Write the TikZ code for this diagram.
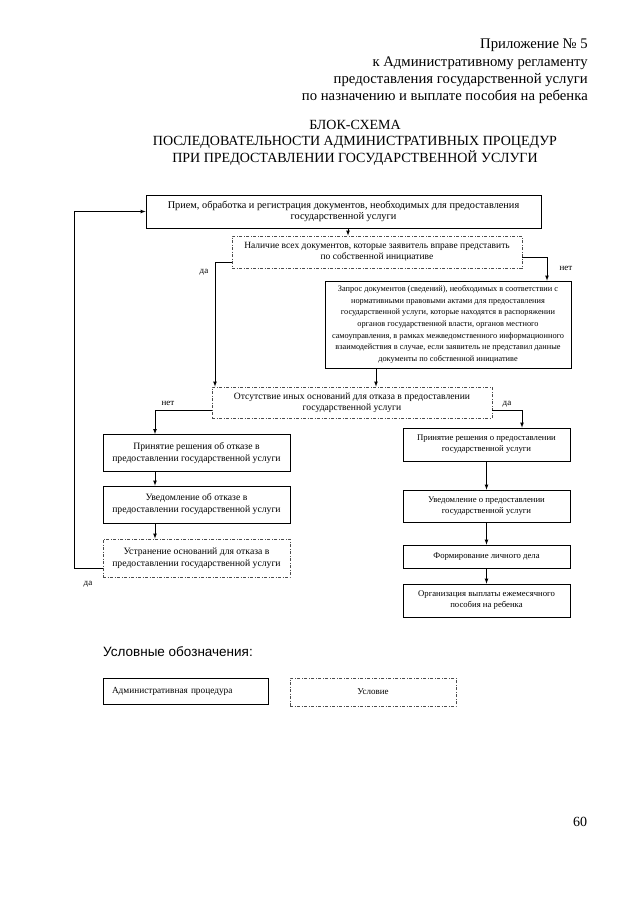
\documentclass[tikz,border=0pt]{standalone}
\usepackage{fontspec}
\setmainfont{Liberation Serif}
\newfontfamily\legendfont{Liberation Sans}
\usetikzlibrary{arrows}

\tikzset{
  proc/.style={draw, line width=0.8pt, align=center, inner sep=1pt,
    font=\fontsize{9}{11}\selectfont},
  cond/.style={draw=black!70, line width=0.8pt,
    dash pattern=on 3pt off 1.5pt on 1pt off 1.5pt,
    align=center, inner sep=1pt, font=\fontsize{9.5}{11}\selectfont},
  link/.style={-latex, line width=0.7pt},
  lbl/.style={font=\fontsize{9}{10}\selectfont, inner sep=0pt}
}

\begin{document}
\begin{tikzpicture}[x=1pt,y=-1pt]
  \useasboundingbox (0,0) rectangle (640,905);

  % header and title
  \node[anchor=north east, align=right, inner sep=0pt,
    font=\fontsize{14.7}{17.3}\selectfont] (annex) at (588,39)
    {Приложение № 5\\к Административному регламенту\\предоставления государственной услуги\\по назначению и выплате пособия на ребенка};
  \node[align=center, inner sep=0pt, font=\fontsize{14}{16.5}\selectfont] (title) at (355,142.5)
    {БЛОК-СХЕМА\\ПОСЛЕДОВАТЕЛЬНОСТИ АДМИНИСТРАТИВНЫХ ПРОЦЕДУР\\ПРИ ПРЕДОСТАВЛЕНИИ ГОСУДАРСТВЕННОЙ УСЛУГИ};

  % boxes
  \node[proc, minimum width=395pt, minimum height=33pt, font=\fontsize{10.3}{11.5}\selectfont] (receipt) at (343.5,211.5)
    {Прием, обработка и регистрация документов, необходимых для предоставления\\государственной услуги};
  \node[cond, minimum width=290pt, minimum height=32pt] (docs) at (377,252)
    {Наличие всех документов, которые заявитель вправе представить\\по собственной инициативе};
  \node[proc, minimum width=246pt, minimum height=87pt, font=\fontsize{8.3}{11.6}\selectfont] (request) at (448,324.5)
    {Запрос документов (сведений), необходимых в соответствии с\\нормативными правовыми актами для предоставления\\государственной услуги, которые находятся в распоряжении\\органов государственной власти, органов местного\\самоуправления, в рамках межведомственного информационного\\взаимодействия в случае, если заявитель не представил данные\\документы по собственной инициативе};
  \node[cond, minimum width=280pt, minimum height=31pt, font=\fontsize{9.6}{11}\selectfont] (grounds) at (352,402.5)
    {Отсутствие иных оснований для отказа в предоставлении\\государственной услуги};

  \node[proc, minimum width=187pt, minimum height=37pt, font=\fontsize{9.7}{12}\selectfont] (refuse) at (196.5,453)
    {Принятие решения об отказе в\\предоставлении государственной услуги};
  \node[proc, minimum width=187pt, minimum height=37pt, font=\fontsize{9.7}{12}\selectfont] (notifyno) at (196.5,504.5)
    {Уведомление об отказе в\\предоставлении государственной услуги};
  \node[cond, minimum width=187pt, minimum height=38pt, font=\fontsize{9.7}{12}\selectfont] (remedy) at (196.5,558)
    {Устранение оснований для отказа в\\предоставлении государственной услуги};

  \node[proc, minimum width=167pt, minimum height=33pt, font=\fontsize{8.7}{11}\selectfont] (grant) at (486.5,444.5)
    {Принятие решения о предоставлении\\государственной услуги};
  \node[proc, minimum width=167pt, minimum height=32pt, font=\fontsize{8.7}{11}\selectfont] (notifyyes) at (486.5,506)
    {Уведомление о предоставлении\\государственной услуги};
  \node[proc, minimum width=167pt, minimum height=23pt, font=\fontsize{8.7}{11}\selectfont] (casefile) at (486.5,556.5)
    {Формирование личного дела};
  \node[proc, minimum width=167pt, minimum height=33pt, font=\fontsize{8.7}{11}\selectfont] (payment) at (486.5,600.5)
    {Организация выплаты ежемесячного\\пособия на ребенка};

  % connectors
  \draw[link] ([xshift=4.5pt]receipt.south) -- ([xshift=4.5pt]receipt.south |- docs.north);
  \draw[link] ([yshift=-10pt]docs.west) -| ([xshift=-137pt]grounds.north);
  \draw[link] ([yshift=-5pt]docs.east) -| ([xshift=99pt]request.north);
  \draw[link] ([xshift=-72pt]request.south) -- ([xshift=-72pt]request.south |- grounds.north);
  \draw[link] ([yshift=-7.5pt]grounds.west) -| ([xshift=-41.5pt]refuse.north);
  \draw[link] ([yshift=-7.5pt]grounds.east) -| ([xshift=35.5pt]grant.north);
  \draw[link] ([xshift=-41.5pt]refuse.south) -- ([xshift=-41.5pt]notifyno.north);
  \draw[link] ([xshift=-41.5pt]notifyno.south) -- ([xshift=-41.5pt]remedy.north);
  \draw[link] ([yshift=-10pt]remedy.west) -- ++(-28,0) |- (receipt.west);
  \draw[link] (grant) -- (notifyyes);
  \draw[link] (notifyyes) -- (casefile);
  \draw[link] (casefile) -- (payment);

  \node[lbl] (yes1) at (204,272) {да};
  \node[lbl] (no1) at (566,268) {нет};
  \node[lbl] (no2) at (168,403) {нет};
  \node[lbl] (yes2) at (507,404) {да};
  \node[lbl] (yes3) at (88,584) {да};

  % legend
  \node[anchor=west, inner sep=0pt, font=\legendfont\fontsize{13.5}{16}\selectfont] (legend) at (103,652)
    {Условные обозначения:};
  \node[proc, minimum width=165pt, minimum height=26pt, text width=147pt, align=left,
    inner xsep=9pt, font=\fontsize{9.3}{11}\selectfont] (keyproc) at (185.5,691) {Административная процедура};
  \node[cond, minimum width=166pt, minimum height=28pt, font=\fontsize{9}{11}\selectfont] (keycond) at (373,692) {Условие};

  \node[inner sep=0pt, font=\fontsize{14}{16}\selectfont] (pagenum) at (580,822) {60};
\end{tikzpicture}
\end{document}
